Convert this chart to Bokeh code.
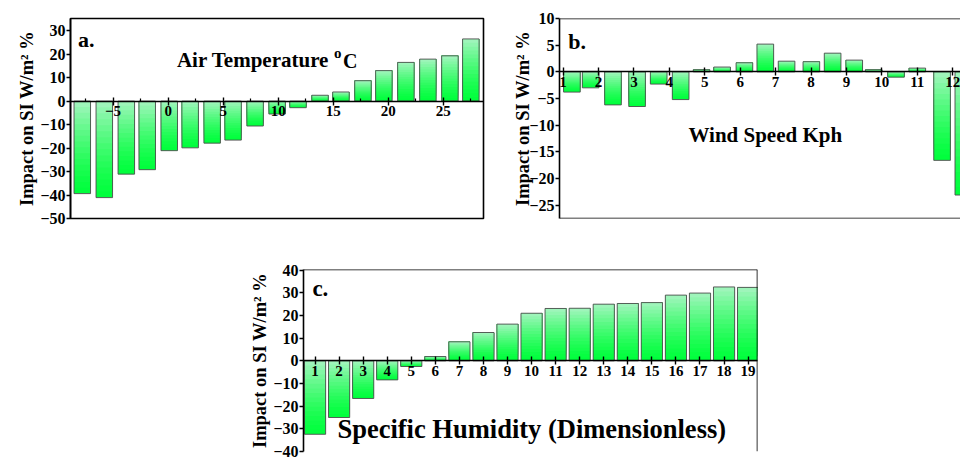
from bokeh.plotting import figure
from bokeh.models import FixedTicker, Span, Label, ColumnDataSource, Spacer
from bokeh.layouts import column, row
from bokeh.embed import file_html
from bokeh.resources import INLINE

FONT = "Liberation Serif"

# ---- Panel a: Air temperature ----
temp_x = [-7.8, -5.8, -3.8, -1.9, 0.1, 2.0, 4.0, 5.9, 7.9, 9.9, 11.8, 13.8, 15.7, 17.7, 19.6, 21.6, 23.6, 25.6, 27.5]
temp_impact = [-39.4, -41.1, -31.1, -29.2, -21.1, -19.9, -17.9, -16.6, -10.6, -5.5, -2.8, 2.5, 3.9, 8.7, 13.0, 16.5, 17.9, 19.3, 26.5]
temp_xticks = [-5, 0, 5, 10, 15, 20, 25]
temp_xminor = [-7.5, -2.5, 2.5, 7.5, 12.5, 17.5, 22.5, 27.5]
temp_yticks = [-50, -40, -30, -20, -10, 0, 10, 20, 30]

# ---- Panel b: Wind speed ----
wind_x = [1.25, 1.78, 2.41, 3.09, 3.70, 4.32, 4.91, 5.49, 6.12, 6.71, 7.31, 8.01, 8.61, 9.22, 9.77, 10.4, 11.0, 11.7, 12.3]
wind_impact = [-3.8, -3.0, -6.2, -6.5, -2.3, -5.2, 0.4, 0.9, 1.7, 5.2, 2.0, 1.9, 3.5, 2.2, 0.4, -1.0, 0.7, -16.6, -23.1]
wind_xticks = [1, 2, 3, 4, 5, 6, 7, 8, 9, 10, 11, 12]
wind_yticks = [-25, -20, -15, -10, -5, 0, 5, 10]

# ---- Panel c: Specific humidity ----
hum_x = [1, 2, 3, 4, 5, 6, 7, 8, 9, 10, 11, 12, 13, 14, 15, 16, 17, 18, 19]
hum_impact = [-32.4, -25.0, -16.6, -8.4, -2.5, 1.9, 8.4, 12.5, 16.2, 21.0, 23.1, 23.2, 25.0, 25.3, 25.7, 29.0, 29.9, 32.6, 32.4]
hum_xticks = [1, 2, 3, 4, 5, 6, 7, 8, 9, 10, 11, 12, 13, 14, 15, 16, 17, 18, 19]
hum_yticks = [-40, -30, -20, -10, 0, 10, 20, 30, 40]

YLABEL = "Impact on SI W/m\u00b2 %"

BOTTOM_RGB = (0, 255, 60)
TOP_RGB = (165, 245, 192)


def gradient_bars(p, xs, vals, width, n=16):
    src = dict(left=[], right=[], bottom=[], top=[], color=[])
    for x, v in zip(xs, vals):
        lo, hi = min(0.0, v), max(0.0, v)
        for k in range(n):
            t = ((k + 0.5) / n) ** 1.4
            c = tuple(int(round(b + (tp - b) * t)) for b, tp in zip(BOTTOM_RGB, TOP_RGB))
            src["left"].append(x - width / 2)
            src["right"].append(x + width / 2)
            src["bottom"].append(lo + (hi - lo) * k / n)
            src["top"].append(hi)
            src["color"].append("#%02x%02x%02x" % c)
    p.quad(left="left", right="right", bottom="bottom", top="top", fill_color="color",
           line_color=None, source=ColumnDataSource(src))
    outline = dict(left=[x - width / 2 for x in xs], right=[x + width / 2 for x in xs],
                   bottom=[min(0.0, v) for v in vals], top=[max(0.0, v) for v in vals])
    p.quad(left="left", right="right", bottom="bottom", top="top", fill_color=None,
           line_color="#4d4d4d", line_width=0.9, source=ColumnDataSource(outline))


def style(p, xticks, yticks, xminor=None, xtick_size="15px", ytick_size="16px", label_standoff=0):
    p.grid.visible = False
    p.background_fill_color = "white"
    p.border_fill_color = "white"
    xa = p.xaxis[0]
    xa.fixed_location = 0
    xa.ticker = FixedTicker(ticks=xticks, minor_ticks=xminor or [])
    xa.axis_line_color = "black"
    xa.axis_line_width = 1.6
    xa.major_tick_in = 4
    xa.major_tick_out = 4
    xa.major_tick_line_width = 1.4
    xa.minor_tick_in = 3
    xa.minor_tick_out = 0
    xa.minor_tick_line_width = 1.2
    xa.major_label_standoff = 1
    xa.major_label_text_font = FONT
    xa.major_label_text_font_style = "bold"
    xa.major_label_text_font_size = xtick_size
    xa.major_label_text_color = "black"
    ya = p.yaxis[0]
    ya.ticker = FixedTicker(ticks=yticks, minor_ticks=[])
    ya.axis_line_color = "black"
    ya.axis_line_width = 1.6
    ya.major_tick_in = 0
    ya.major_tick_out = 4
    ya.major_tick_line_width = 1.4
    ya.major_label_standoff = 1
    ya.major_label_text_font = FONT
    ya.major_label_text_font_style = "bold"
    ya.major_label_text_font_size = ytick_size
    ya.major_label_text_color = "black"
    ya.axis_label = YLABEL
    ya.axis_label_text_font = FONT
    ya.axis_label_text_font_style = "bold"
    ya.axis_label_text_font_size = "18.5px"
    ya.axis_label_text_color = "black"
    ya.axis_label_standoff = label_standoff


def txt(p, x, y, text, size, x_offset=0, y_offset=0, align="left"):
    px = float(size.replace("px", ""))
    p.add_layout(Label(x=x, y=y, text=text, text_font=FONT, text_font_style="bold",
                       text_font_size=size, text_color="black", text_align=align,
                       text_baseline="alphabetic", x_offset=x_offset,
                       y_offset=y_offset + 0.42 * px))


# ---------- Panel a ----------
pa = figure(width=495, height=235, x_range=(-8.87, 28.65), y_range=(-50, 35.2),
            output_backend="svg", toolbar_location=None,
            min_border_left=70, min_border_right=12, min_border_top=17, min_border_bottom=17)
pa.outline_line_color = "black"
pa.outline_line_width = 1.6
pa.outline_line_alpha = 1
gradient_bars(pa, temp_x, temp_impact, 1.5)
style(pa, temp_xticks, temp_yticks, temp_xminor)
txt(pa, -8.2, 22.5, "a.", "22px")
txt(pa, 0.8, 13.6, "Air Temperature ", "21px")
txt(pa, 0.8, 13.6, "o", "15px", x_offset=157, y_offset=10)
txt(pa, 0.8, 13.6, "C", "20px", x_offset=166)

# ---------- Panel b ----------
pb = figure(width=465, height=235, x_range=(0.9, 12.22), y_range=(-27.5, 10),
            output_backend="svg", toolbar_location=None,
            min_border_left=64, min_border_right=0, min_border_top=18, min_border_bottom=11)
pb.outline_line_color = None
gradient_bars(pb, wind_x, wind_impact, 0.47)
style(pb, wind_xticks, wind_yticks, label_standoff=-7)
pb.add_layout(Span(location=10, dimension="width", line_color="black", line_width=1.6))
pb.add_layout(Span(location=-27.5, dimension="width", line_color="black", line_width=1.6))
txt(pb, 1.15, 3.9, "b.", "22px")
txt(pb, 4.54, -13.45, "Wind Speed Kph", "21px")

# ---------- Panel c ----------
pc = figure(width=534, height=226, x_range=(0.52, 19.39), y_range=(-40, 40.3),
            output_backend="svg", toolbar_location=None,
            min_border_left=75, min_border_right=5, min_border_top=34, min_border_bottom=10)
pc.outline_line_color = None
gradient_bars(pc, hum_x, hum_impact, 0.88)
style(pc, hum_xticks, hum_yticks)
pc.add_layout(Span(location=40.3, dimension="width", line_color="black", line_width=1.6))
pc.add_layout(Span(location=19.39, dimension="height", line_color="black", line_width=1.6))
txt(pc, 0.89, 27.8, "c.", "23px")
txt(pc, 1.93, -35.2, "Specific Humidity (Dimensionless)", "26.5px")

layout = column(row(pa, pb), row(Spacer(width=228, height=226), pc))

open("out.html", "w").write(file_html(layout, INLINE))
